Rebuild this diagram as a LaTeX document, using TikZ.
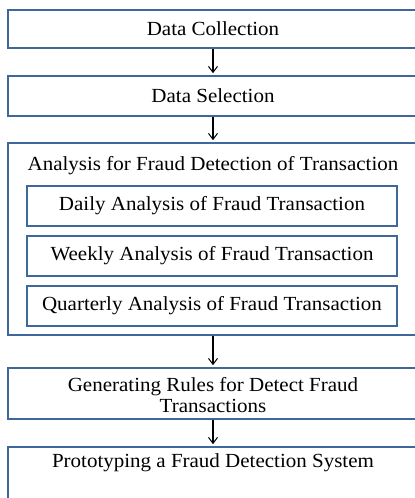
\documentclass[tikz,border=0pt]{standalone}
\usepackage{fontspec}
\setmainfont{Liberation Serif}[FakeStretch=1.05]
\usetikzlibrary{arrows.meta}
\definecolor{boxblue}{HTML}{3E679C}
\tikzset{
  box/.style={draw=boxblue, line width=1.6pt, rectangle, inner sep=0pt, align=center},
  lbl/.style={inner sep=0pt, align=center, font=\fontsize{20}{22}\selectfont},
  flow/.style={-{Straight Barb[length=6pt,width=9pt,line width=1pt]}, line width=1.1pt, black, shorten >=2pt}
}
\begin{document}
\begin{tikzpicture}[x=1pt,y=-1pt]
\useasboundingbox (0,0) rectangle (415,498);
\clip (0,0) rectangle (415,498);
\fill[white] (0,0) rectangle (415,498);
% main boxes
\node[box, minimum width=410, minimum height=38] (b1) at (213,29) {};
\node[lbl] (t1) at (213,29) {Data Collection};
\node[box, minimum width=410, minimum height=40] (b2) at (213,96) {};
\node[lbl] (t2) at (213,96) {Data Selection};
\node[box, minimum width=410, minimum height=192] (b3) at (213,239) {};
\node[lbl] (t3) at (213,165.5) {Analysis for Fraud Detection of Transaction};
\node[box, minimum width=370, minimum height=40] (d) at (212,206) {};
\node[lbl] (td) at (212,206) {Daily Analysis of Fraud Transaction};
\node[box, minimum width=370, minimum height=40] (w) at (212,256) {};
\node[lbl] (tw) at (212,256) {Weekly Analysis of Fraud Transaction};
\node[box, minimum width=370, minimum height=40] (q) at (212,306) {};
\node[lbl] (tq) at (212,306) {Quarterly Analysis of Fraud Transaction};
\node[box, minimum width=410, minimum height=51] (b4) at (213,393.5) {};
\node[lbl, font=\fontsize{20}{21}\selectfont] (t4) at (213,395.5) {Generating Rules for Detect Fraud\\Transactions};
\node[box, minimum width=410, minimum height=66] (b5) at (213,480) {};
\node[lbl] (t5) at (213,463) {Prototyping a Fraud Detection System};
% connectors
\draw[flow] (b1.south) -- (b2.north);
\draw[flow] (b2.south) -- (b3.north);
\draw[flow] (b3.south) -- (b4.north);
\draw[flow] (b4.south) -- (b5.north);
\end{tikzpicture}
\end{document}
